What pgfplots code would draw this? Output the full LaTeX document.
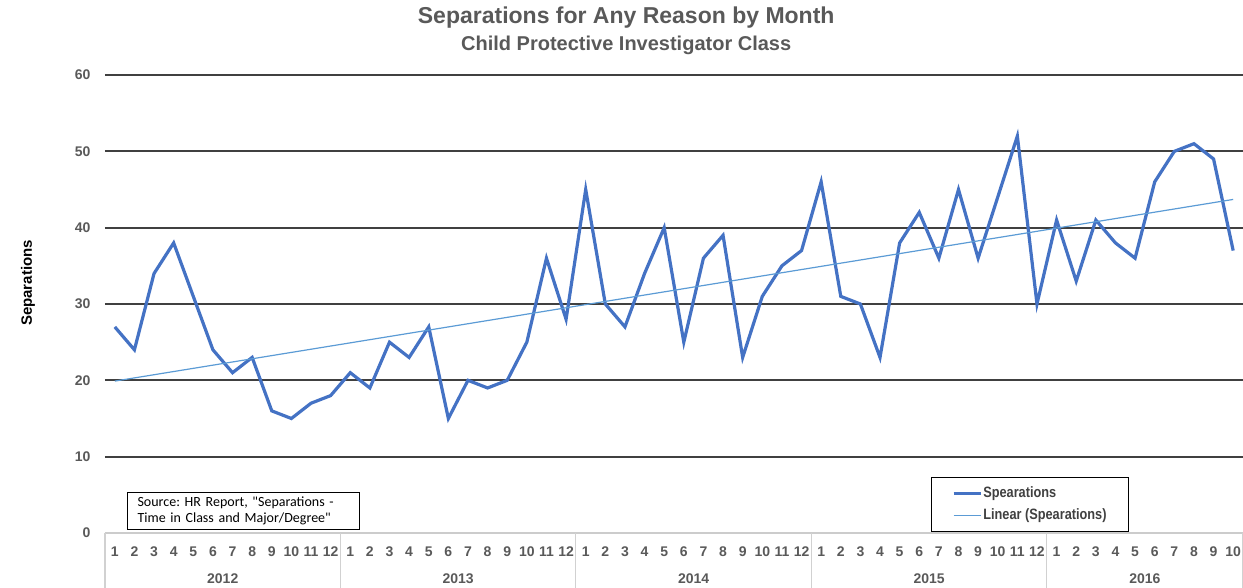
\documentclass[border=0pt]{standalone}
\usepackage{pgfplots}
\pgfplotsset{compat=1.18}
\usepackage{pgfplotstable}
\usepackage{fontspec}
\setmainfont{Liberation Sans}
\newfontfamily\srcfont{Carlito}
\newfontfamily\narrowfont[FakeStretch=0.85]{Liberation Sans}
\definecolor{sepblue}{HTML}{4472C4}
\definecolor{trendblue}{HTML}{5B9BD5}
\definecolor{txtgray}{HTML}{595959}

% month index (1 = Jan 2012) and separations
\pgfplotstableread{
m v
1 27
2 24
3 34
4 38
5 31
6 24
7 21
8 23
9 16
10 15
11 17
12 18
13 21
14 19
15 25
16 23
17 27
18 15
19 20
20 19
21 20
22 25
23 36
24 28
25 45
26 30
27 27
28 34
29 40
30 25
31 36
32 39
33 23
34 31
35 35
36 37
37 46
38 31
39 30
40 23
41 38
42 42
43 36
44 45
45 36
46 44
47 52
48 30
49 41
50 33
51 41
52 38
53 36
54 46
55 50
56 51
57 49
58 37
}\sepdata

\begin{document}
\begin{tikzpicture}
\begin{axis}[
  width=569pt, height=229pt, scale only axis,
  xmin=0.5, xmax=58.5, ymin=0, ymax=60,
  axis x line*=bottom, axis y line*=left,
  x axis line style={draw=black!20, line width=0.8pt},
  y axis line style={draw=none},
  major tick length=0pt,
  ytick={10,20,...,60},
  extra y ticks={0}, extra y tick style={grid=none},
  ymajorgrids, major grid style={draw=black!75, line width=0.9pt},
  yticklabel style={font=\bfseries\fontsize{7}{8}\selectfont, text=txtgray, xshift=-3.7pt},
  /pgf/number format/assume math mode=true,
  xtick={1,...,58},
  xticklabels={1,2,3,4,5,6,7,8,9,10,11,12,1,2,3,4,5,6,7,8,9,10,11,12,1,2,3,4,5,6,7,8,9,10,11,12,1,2,3,4,5,6,7,8,9,10,11,12,1,2,3,4,5,6,7,8,9,10},
  xticklabel style={font=\bfseries\fontsize{7}{8}\selectfont, text=txtgray, anchor=center, yshift=-9.5pt},
  clip=false,
  legend image code/.code={\draw[#1] (0pt,0pt) -- (13.5pt,0pt);},
  legend cell align=left,
  legend style={at={(rel axis cs:0.7254,0.1223)}, anchor=north west,
    draw=black, line width=0.6pt, font=\narrowfont\bfseries\fontsize{7.5}{8.5}\selectfont,
    text=black!75, inner xsep=10.5pt, inner ysep=2.3pt, row sep=0.3pt,
    nodes={inner xsep=0.5pt}},
]
  \addplot[sepblue, line width=1.6pt] table[x=m, y=v] {\sepdata};
  \addlegendentry{Spearations}
  \addplot[trendblue, line width=0.6pt] coordinates {(1,19.9) (58,43.7)};
  \addlegendentry{Linear (Spearations)}

  \coordinate (O) at (rel axis cs:0,0);
  % year separators
  \draw[black!18, line width=0.6pt] (axis cs:0.5,0) -- ([yshift=-27.5pt]axis cs:0.5,0);
  \draw[black!18, line width=0.6pt] (axis cs:12.5,0) -- ([yshift=-27.5pt]axis cs:12.5,0);
  \draw[black!18, line width=0.6pt] (axis cs:24.5,0) -- ([yshift=-27.5pt]axis cs:24.5,0);
  \draw[black!18, line width=0.6pt] (axis cs:36.5,0) -- ([yshift=-27.5pt]axis cs:36.5,0);
  \draw[black!18, line width=0.6pt] (axis cs:48.5,0) -- ([yshift=-27.5pt]axis cs:48.5,0);
  \draw[black!18, line width=0.6pt] (axis cs:58.5,0) -- ([yshift=-27.5pt]axis cs:58.5,0);
  % year labels
  \node[font=\bfseries\fontsize{7}{8}\selectfont, text=txtgray] at ([yshift=-23pt]axis cs:6.5,0) {2012};
  \node[font=\bfseries\fontsize{7}{8}\selectfont, text=txtgray] at ([yshift=-23pt]axis cs:18.5,0) {2013};
  \node[font=\bfseries\fontsize{7}{8}\selectfont, text=txtgray] at ([yshift=-23pt]axis cs:30.5,0) {2014};
  \node[font=\bfseries\fontsize{7}{8}\selectfont, text=txtgray] at ([yshift=-23pt]axis cs:42.5,0) {2015};
  \node[font=\bfseries\fontsize{7}{8}\selectfont, text=txtgray] at ([yshift=-23pt]axis cs:53.5,0) {2016};
  % titles
  \node[font=\bfseries\fontsize{11.5}{13}\selectfont, text=txtgray] at ([yshift=28.5pt]rel axis cs:0.458,1) {Separations for Any Reason by Month};
  \node[font=\bfseries\fontsize{10}{12}\selectfont, text=txtgray] at ([yshift=15pt]rel axis cs:0.458,1) {Child Protective Investigator Class};
  % y label
  \node[font=\bfseries\fontsize{7.5}{9}\selectfont, rotate=90] at ([xshift=-38.5pt]rel axis cs:0,0.546) {Separations};
  % source note
  \node[draw=black, line width=0.6pt, anchor=north west, align=left,
    font=\srcfont\fontsize{7}{8.3}\selectfont\frenchspacing, text width=106pt,
    inner xsep=5pt, inner ysep=2pt] at (rel axis cs:0.0193,0.0895)
    {Source: HR Report, "Separations -\\Time in Class and Major/Degree"};
\end{axis}
\pgfresetboundingbox
\useasboundingbox (O) ++(-52.5pt,-27.5pt) rectangle ++(621.5pt,294pt);
\end{tikzpicture}
\end{document}
